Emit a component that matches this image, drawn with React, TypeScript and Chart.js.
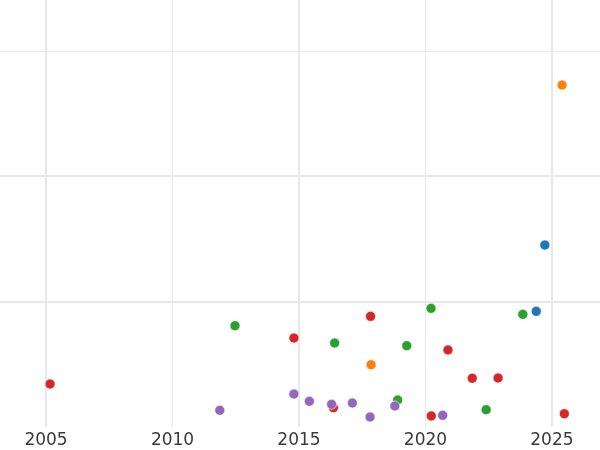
import React, { useEffect, useRef } from "react";
import { Chart, registerables } from "chart.js";

Chart.register(...registerables);

const xTickValues = [2005, 2010, 2015, 2020, 2025];
const majorXTicks = [2005, 2015, 2025];
const yTickValues = [1, 2, 3];
const majorYTicks = [1, 2];

const blueX = [2024.72, 2024.38];
const blueY = [1.452, 0.923];

const orangeX = [2025.4, 2017.85];
const orangeY = [2.729, 0.497];

const greenX = [2012.47, 2020.22, 2023.85, 2016.41, 2019.26, 2018.9, 2022.4];
const greenY = [0.808, 0.947, 0.899, 0.67, 0.649, 0.215, 0.138];

const redX = [2005.16, 2014.8, 2017.83, 2020.89, 2021.85, 2022.87, 2016.36, 2020.23, 2025.49];
const redY = [0.343, 0.71, 0.883, 0.615, 0.389, 0.391, 0.154, 0.088, 0.106];

const purpleX = [2014.8, 2011.87, 2015.41, 2016.29, 2017.11, 2018.79, 2017.81, 2020.68];
const purpleY = [0.263, 0.133, 0.205, 0.181, 0.192, 0.168, 0.08, 0.093];

const series = [
  { name: "blue", color: "#1f77b4", xs: blueX, ys: blueY },
  { name: "orange", color: "#ff7f0e", xs: orangeX, ys: orangeY },
  { name: "green", color: "#2ca02c", xs: greenX, ys: greenY },
  { name: "red", color: "#d62728", xs: redX, ys: redY },
  { name: "purple", color: "#9467bd", xs: purpleX, ys: purpleY },
];

export default function App() {
  const ref = useRef<HTMLCanvasElement | null>(null);
  useEffect(() => {
    if (!ref.current) return;
    const chart = new Chart(ref.current, {
      type: "scatter",
      data: {
        datasets: series.map((s, idx) => ({
          label: s.name,
          data: s.xs.map((x, i) => ({ x, y: s.ys[i] })),
          backgroundColor: s.color,
          borderColor: "#ffffff",
          borderWidth: 0.6,
          pointRadius: 5,
          order: series.length - idx,
        })),
      },
      options: {
        animation: false,
        responsive: false,
        layout: { padding: 0, autoPadding: false },
        plugins: { legend: { display: false }, tooltip: { enabled: false } },
        scales: {
          x: {
            type: "linear",
            min: 2003.18,
            max: 2026.9,
            afterBuildTicks: (scale: any) => {
              scale.ticks = xTickValues.map((v) => ({ value: v }));
            },
            afterFit: (scale: any) => {
              scale.height = 23;
            },
            border: { display: false },
            grid: {
              drawTicks: false,
              color: "#e8e8e8",
              lineWidth: (ctx: any) => (majorXTicks.includes(ctx.tick?.value) ? 2 : 1),
            },
            ticks: {
              padding: 3,
              color: "#3a3a3a",
              font: { family: "DejaVu Sans", size: 17 },
              maxRotation: 0,
              callback: (v: any) => String(v),
            },
          },
          y: {
            type: "linear",
            min: 0,
            max: 3.408,
            afterBuildTicks: (scale: any) => {
              scale.ticks = yTickValues.map((v) => ({ value: v }));
            },
            afterFit: (scale: any) => {
              scale.width = 0;
            },
            border: { display: false },
            grid: {
              drawTicks: false,
              color: "#e8e8e8",
              lineWidth: (ctx: any) => (majorYTicks.includes(ctx.tick?.value) ? 2 : 1),
            },
            ticks: { display: false },
          },
        },
      },
    });
    return () => chart.destroy();
  }, []);
  return (
    <canvas
      ref={ref}
      width={600}
      height={450}
      style={{ position: "absolute", top: 0, left: 0, display: "block", width: 600, height: 450 }}
    />
  );
}
